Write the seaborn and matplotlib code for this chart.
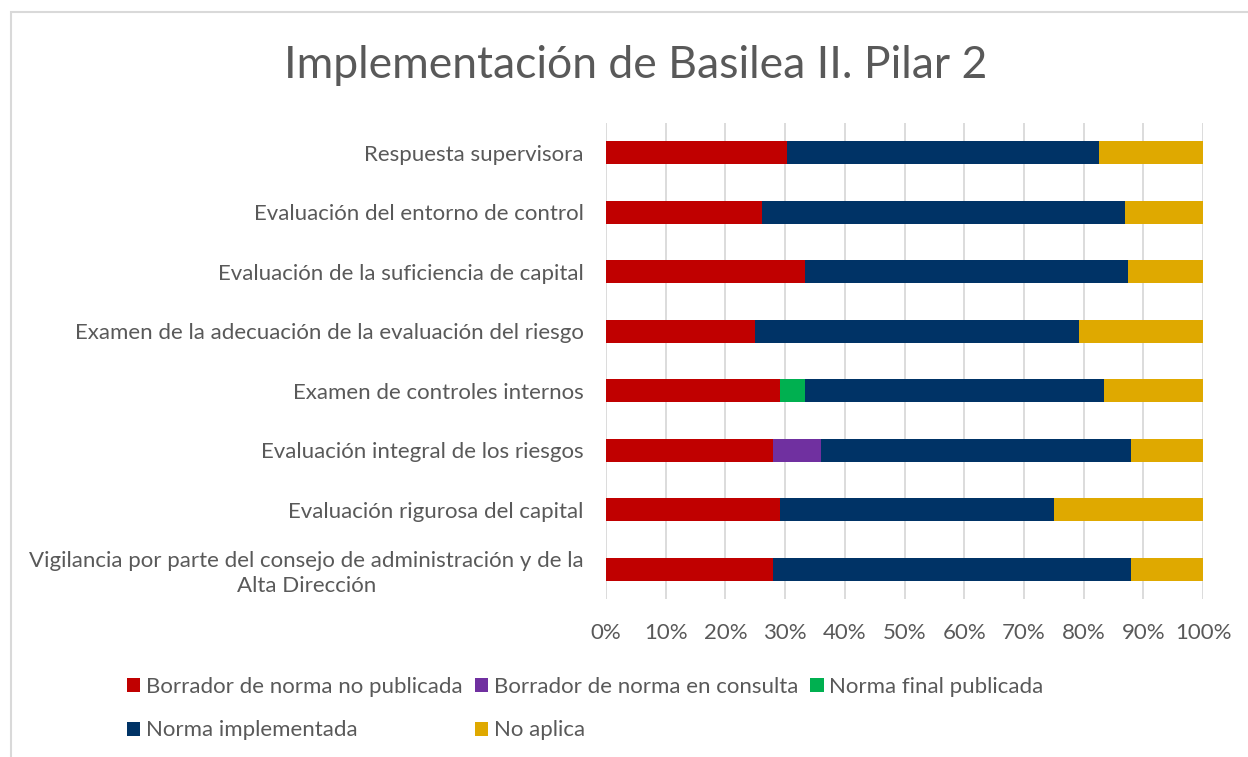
import matplotlib.pyplot as plt
import seaborn as sns
import numpy as np
import pandas as pd
from matplotlib.patches import Patch, Rectangle

categories = [
    "Respuesta supervisora",
    "Evaluación del entorno de control",
    "Evaluación de la suficiencia de capital",
    "Examen de la adecuación de la evaluación del riesgo",
    "Examen de controles internos",
    "Evaluación integral de los riesgos",
    "Evaluación rigurosa del capital",
    "Vigilancia por parte del consejo de administración y de la\nAlta Dirección",
]

borrador_no_publicada = [30.4, 26.1, 33.3, 25.0, 29.2, 28.0, 29.2, 28.0]
borrador_consulta = [0.0, 0.0, 0.0, 0.0, 0.0, 8.0, 0.0, 0.0]
norma_final = [0.0, 0.0, 0.0, 0.0, 4.2, 0.0, 0.0, 0.0]
norma_implementada = [52.2, 60.9, 54.2, 54.2, 50.0, 52.0, 45.8, 60.0]
no_aplica = [17.4, 13.0, 12.5, 20.8, 16.6, 12.0, 25.0, 12.0]

series_names = [
    "Borrador de norma no publicada",
    "Borrador de norma en consulta",
    "Norma final publicada",
    "Norma implementada",
    "No aplica",
]
colors = ["#C00000", "#7030A0", "#00B050", "#003366", "#DFA900"]
x_ticks = np.arange(0, 101, 10)

sns.set_style("white")
plt.rcParams["font.family"] = ["Lato", "DejaVu Sans"]
text_color = "#595959"

df = pd.DataFrame({
    "categoria": categories,
    series_names[0]: borrador_no_publicada,
    series_names[1]: borrador_consulta,
    series_names[2]: norma_final,
    series_names[3]: norma_implementada,
    series_names[4]: no_aplica,
})
cum = df[series_names].cumsum(axis=1)

fig = plt.figure(figsize=(12.48, 7.57), dpi=100)
ax = fig.add_axes([606 / 1248, 1 - 599 / 757, 597 / 1248, 476 / 757])

# stacked bars: draw cumulative totals from the last series to the first
for name, color in reversed(list(zip(series_names, colors))):
    sns.barplot(
        x=cum[name], y=df["categoria"], orient="h", color=color,
        width=0.39, linewidth=0, saturation=1, ax=ax, zorder=3
    )

ax.set_xlim(0, 100)
ax.set_ylim(7.5, -0.5)
ax.set_xticks(x_ticks)
ax.set_xticklabels([f"{t}%" for t in x_ticks])
ax.set_xlabel("")
ax.set_ylabel("")
ax.grid(axis="x", color="#D9D9D9", linewidth=1.3, zorder=0)
ax.set_axisbelow(True)
for s in ax.spines.values():
    s.set_visible(False)
ax.tick_params(axis="both", length=0, labelsize=16, colors=text_color)
ax.tick_params(axis="y", pad=16)
ax.tick_params(axis="x", pad=17)
for lbl in ax.get_yticklabels():
    lbl.set_multialignment("center")
    lbl.set_linespacing(1.3)

fig.text(636 / 1248, 1 - 66 / 757, "Implementación de Basilea II. Pilar 2",
         ha="center", va="center", fontsize=32, color=text_color)

handles = [Patch(facecolor=c, edgecolor="none", label=n) for n, c in zip(series_names, colors)]
order = [0, 3, 1, 4, 2]
fig.legend(
    [handles[i] for i in order], [series_names[i] for i in order],
    ncol=3, loc="upper left", bbox_to_anchor=(116 / 1248, 1 - 666 / 757),
    frameon=False, fontsize=16, labelcolor=text_color, borderpad=0,
    handlelength=0.6, handleheight=0.6, handletextpad=0.25,
    columnspacing=0.55, labelspacing=1.05
)

fig.patches.append(Rectangle((11 / 1248, -0.1), 2, 1 - 12 / 757 + 0.1,
                             transform=fig.transFigure, fill=False,
                             edgecolor="#D9D9D9", linewidth=1.5))

fig.savefig("out.png", dpi=100)
